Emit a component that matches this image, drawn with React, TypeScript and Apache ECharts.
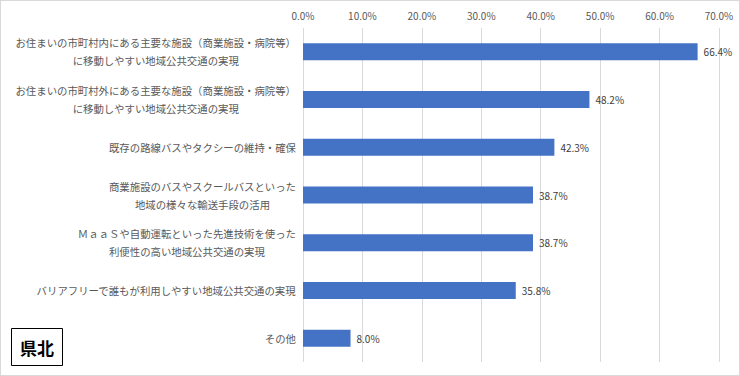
import React, { useEffect, useRef } from "react";
import * as echarts from "echarts";

const categories: string[] = [
  "お住まいの市町村内にある主要な施設（商業施設・病院等）\nに移動しやすい地域公共交通の実現",
  "お住まいの市町村外にある主要な施設（商業施設・病院等）\nに移動しやすい地域公共交通の実現",
  "既存の路線バスやタクシーの維持・確保",
  "商業施設のバスやスクールバスといった\n地域の様々な輸送手段の活用",
  "ＭａａＳや自動運転といった先進技術を使った\n利便性の高い地域公共交通の実現",
  "バリアフリーで誰もが利用しやすい地域公共交通の実現",
  "その他",
];
const values: number[] = [66.4, 48.2, 42.3, 38.7, 38.7, 35.8, 8.0];
const regionLabel = "県北";

const FONT = "'Noto Sans CJK JP', 'Noto Sans', sans-serif";

export default function App() {
  const ref = useRef<HTMLDivElement>(null);
  useEffect(() => {
    if (!ref.current) return;
    const chart = echarts.init(ref.current, null, { renderer: "svg" });
    chart.setOption({
      animation: false,
      textStyle: { fontFamily: FONT },
      grid: { left: 302, right: 20, top: 27, bottom: 13, containLabel: false },
      xAxis: {
        type: "value",
        position: "top",
        min: 0,
        max: 70,
        interval: 10,
        axisLine: { show: false },
        axisTick: { show: false },
        splitLine: { show: true, lineStyle: { color: "#d9d9d9", width: 1 } },
        axisLabel: {
          margin: 8,
          fontSize: 10,
          color: "#595959",
          fontFamily: FONT,
          formatter: (v: number) => v.toFixed(1) + "%",
        },
      },
      yAxis: {
        type: "category",
        inverse: true,
        data: categories,
        axisLine: { show: false },
        axisTick: { show: false },
        axisLabel: {
          margin: 7,
          fontSize: 10.4,
          color: "#595959",
          fontFamily: FONT,
          lineHeight: 18,
          formatter: (v: string) =>
            v
              .split("\n")
              .map((s) => "{c|" + s + "}")
              .join("\n"),
          rich: {
            c: {
              align: "center",
              fontSize: 10.4,
              lineHeight: 18,
              color: "#595959",
              fontFamily: FONT,
            },
          },
        },
      },
      series: [
        {
          type: "bar",
          data: values,
          barWidth: 17,
          itemStyle: { color: "#4472C4" },
          label: {
            show: true,
            position: "right",
            distance: 6,
            fontSize: 10,
            color: "#404040",
            fontFamily: FONT,
            formatter: (p: any) => Number(p.value).toFixed(1) + "%",
          },
        },
      ],
      graphic: [
        {
          type: "rect",
          shape: { x: 10.5, y: 327.5, width: 51, height: 37 },
          style: { fill: "#ffffff", stroke: "#000000", lineWidth: 1 },
        },
        {
          type: "text",
          x: 36,
          y: 346,
          style: {
            text: regionLabel,
            fontSize: 17,
            fontWeight: "bold",
            fill: "#000000",
            fontFamily: FONT,
            align: "center",
            verticalAlign: "middle",
          },
        },
      ],
    });
    return () => chart.dispose();
  }, []);
  return (
    <div
      style={{
        position: "absolute",
        left: 0,
        top: 0,
        width: 740,
        height: 376,
        boxSizing: "border-box",
        border: "1px solid #d9d9d9",
        background: "#fff",
      }}
    >
      <div ref={ref} style={{ width: 738, height: 374 }} />
    </div>
  );
}
